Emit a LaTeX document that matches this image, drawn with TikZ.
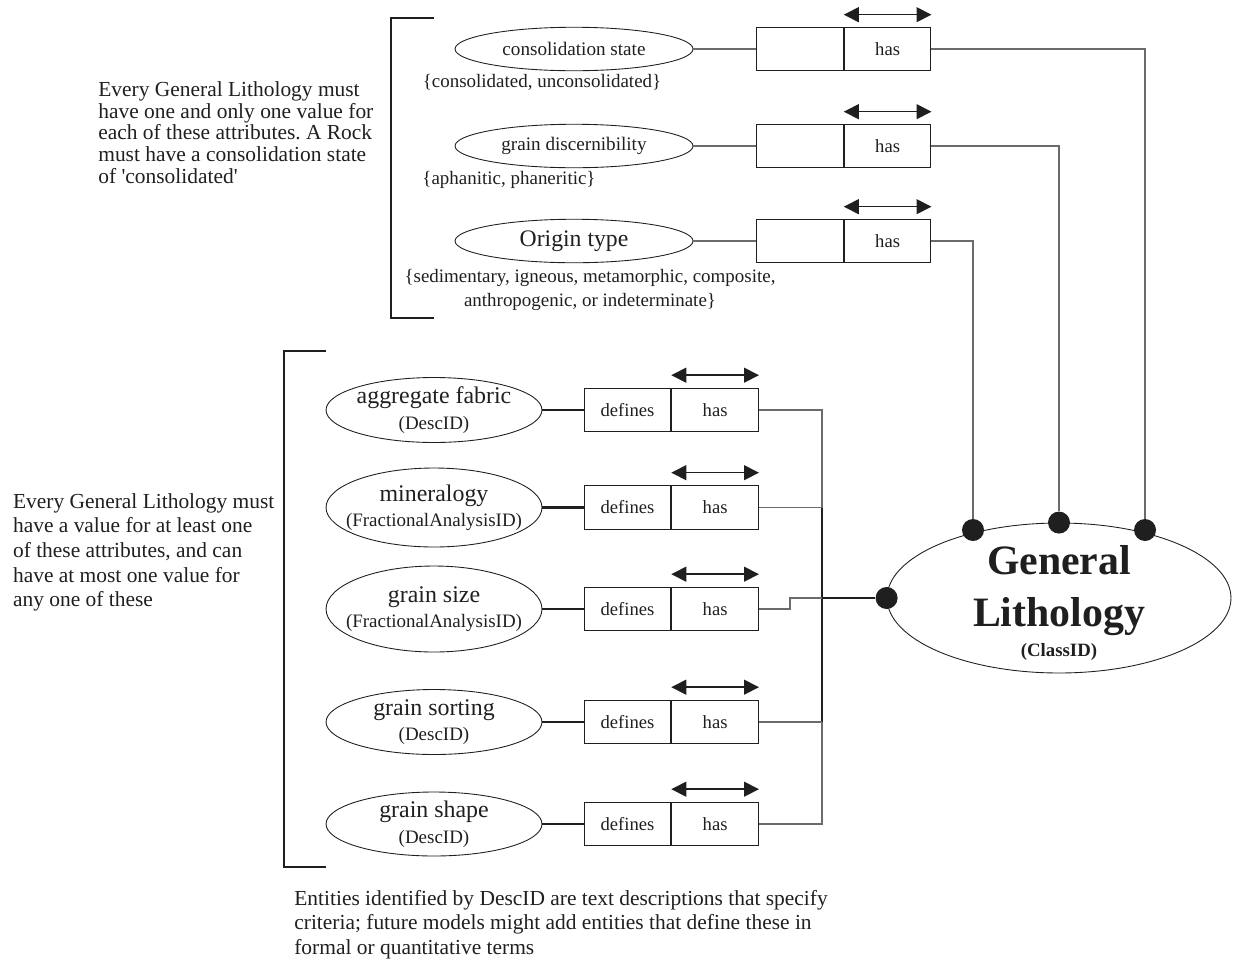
\documentclass[tikz,border=0pt]{standalone}
\usepackage{fontspec}
\setmainfont{Liberation Serif}
\usetikzlibrary{shapes.geometric,arrows.meta,positioning}
\definecolor{ink}{gray}{0.12}
\definecolor{wire}{gray}{0.42}
\newcommand{\idsize}{\fontsize{10.8}{12}\selectfont}
\frenchspacing

\begin{document}
\begin{tikzpicture}[
    x=0.02cm, y=-0.02cm, text=ink,
    attr/.style={draw=ink, ellipse, line width=0.5pt, inner sep=0pt, minimum width=4.76cm, minimum height=0.87cm},
    pairattr/.style={draw=ink, ellipse, line width=0.5pt, inner sep=0pt, minimum width=4.32cm},
    pairname/.style={align=center, inner sep=0pt, font=\fontsize{13.6}{14.5}\selectfont},
    cell/.style={draw=ink, line width=0.65pt, minimum width=1.73cm, minimum height=0.87cm, inner sep=0pt, font=\fontsize{10.6}{12}\selectfont},
    link/.style={draw=wire, line width=0.7pt},
    boldlink/.style={draw=ink, line width=1.3pt},
    twoway/.style={{Triangle[length=8.5pt,width=8.5pt]}-{Triangle[length=8.5pt,width=8.5pt]}, line width=0.8pt, draw=ink},
    dotmark/.style={circle, fill=ink, minimum size=0.44cm, inner sep=0pt},
    note/.style={anchor=north west, align=left, inner sep=0pt, font=\fontsize{12.2}{12.4}\selectfont},
    valueset/.style={align=center, inner sep=0pt, font=\fontsize{10.8}{13.6}\selectfont}
]
\useasboundingbox (0,0) rectangle (1233,974);

\foreach \n/\y/\fs/\txt in {cs/49/10.9/consolidation state, gd/146/10.9/grain discernibility, ot/241/13.5/Origin type}{
  \node[attr, font=\fontsize{\fs}{14}\selectfont] (\n) at (574,\y) {\txt};
  \node[cell] (\n L) at (800,\y) {};
  \node[cell, right=0pt of \n L] (\n R) {has};
  \draw[link] (\n) -- (\n L);
  \draw[twoway] ([yshift=0.24cm]\n R.north west) -- ([yshift=0.24cm]\n R.north east);
}

\node[valueset] (csV) at (542,82) {\{consolidated, unconsolidated\}};
\node[valueset] (gdV) at (509,180) {\{aphanitic, phaneritic\}};
\node[valueset] (otV) at (590,290) {\{sedimentary, igneous, metamorphic, composite,\\anthropogenic, or indeterminate\}};

\foreach \n/\y/\h/\txt/\id in {af/410/1.3/aggregate fabric/(DescID), mi/507.5/1.58/mineralogy/(FractionalAnalysisID), gz/609/1.72/grain size/(FractionalAnalysisID), gso/722/1.3/grain sorting/(DescID), gsh/824/1.28/grain shape/(DescID)}{
  \node[pairattr, minimum height=\h cm, label={[name=\n T, pairname]center:{\txt\\\idsize\id}}] (\n) at (434,\y) {};
  \node[cell] (\n L) at (627.5,\y) {defines};
  \node[cell, right=0pt of \n L] (\n R) {has};
  \draw[boldlink] (\n) -- (\n L);
  \draw[twoway] ([yshift=0.25cm]\n R.north west) -- ([yshift=0.25cm]\n R.north east);
}

\node[draw=ink, ellipse, line width=0.5pt, inner sep=0pt, minimum width=6.88cm, minimum height=3cm,
  label={[name=GLT, align=center, inner sep=0pt, yshift=-0.1cm, font=\fontsize{23.8}{29.5}\selectfont\bfseries]center:{General\\Lithology\\[-12.5pt]\fontsize{10.7}{12}\selectfont (ClassID)}}] (GL) at (1059,598) {};

\node[dotmark] (d1) at (973,530) {};
\node[dotmark] (d2) at (GL.north) {};
\node[dotmark] (d3) at (1145,530) {};
\node[dotmark] (d4) at (GL.west) {};

\draw[link] (csR) -| (d3);
\draw[link] (gdR) -| (d2);
\draw[link] (otR) -| (d1);

\coordinate (b1) at (822,507.5);
\coordinate (b2) at (822,598);
\coordinate (b3) at (822,722);
\coordinate (jog) at (790,598);
\draw[link] (afR) -| (b1);
\draw[link] (miR) -- (b1);
\draw[boldlink] (b1) -- (b3);
\draw[link] (gsoR) -- (b3);
\draw[link] (gshR) -| (b3);
\draw[link] (gzR) -| (jog) -- (b2);
\draw[boldlink] (b2) -- (d4);

\draw[ink, line width=0.6pt] (434,18) -- (391,18) -- (391,318) -- (434,318);
\draw[ink, line width=0.6pt] (326,351) -- (284,351) -- (284,867) -- (326,867);

\node[note] (topnote) at (98,81) {Every General Lithology must\\have one and only one value for\\each of these attributes. A Rock\\must have a consolidation state\\of \textquotesingle consolidated\textquotesingle};
\node[note, font=\fontsize{12.2}{14}\selectfont] (lownote) at (12.7,493) {Every General Lithology must\\have a value for at least one\\of these attributes, and can\\have at most one value for\\any one of these};
\node[note, font=\fontsize{12.2}{13.9}\selectfont] (descnote) at (294,890) {Entities identified by DescID are text descriptions that specify\\criteria; future models might add entities that define these in\\formal or quantitative terms};

\end{tikzpicture}
\end{document}
